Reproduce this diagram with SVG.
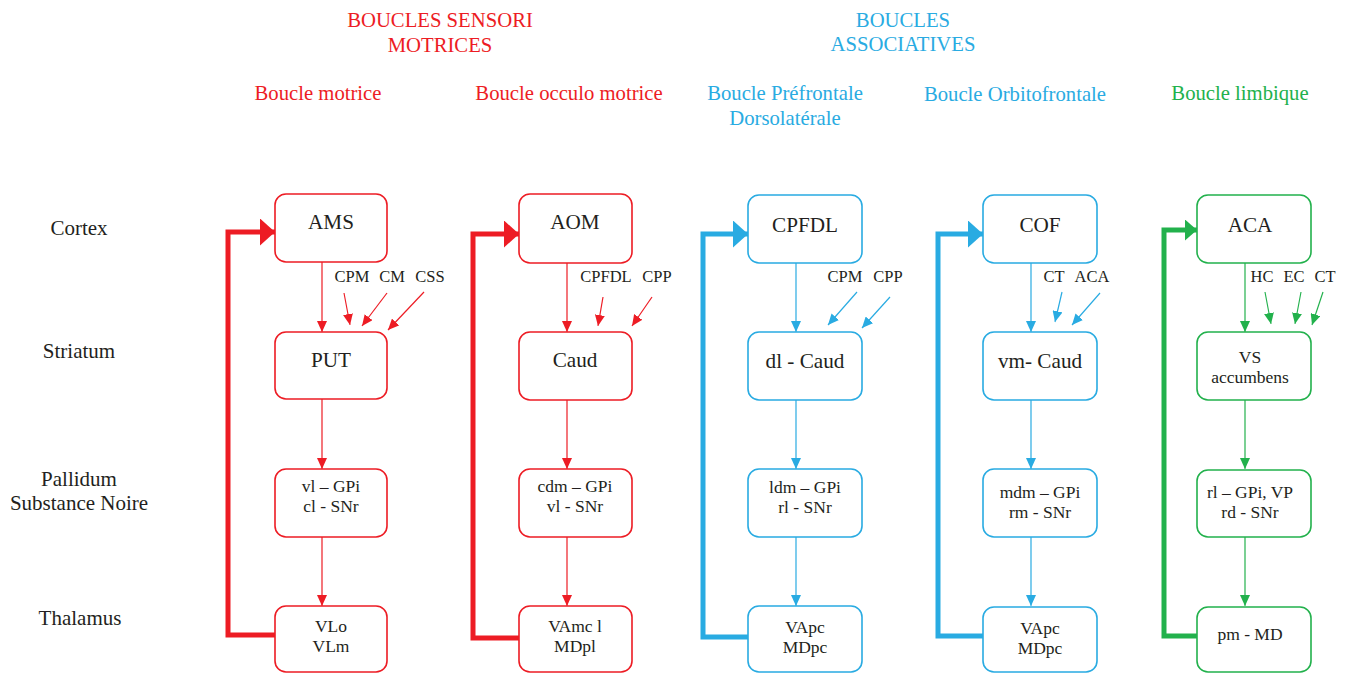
<svg xmlns="http://www.w3.org/2000/svg" width="1347" height="673" viewBox="0 0 1347 673" font-family="Liberation Serif, DejaVu Serif, serif">
<style>
text{font-family:'Liberation Serif','DejaVu Serif',serif;fill:#231F20;text-anchor:middle}
.hd{font-size:20.7px}
.r{fill:#ED1C24}.b{fill:#29ABE2}.g{fill:#22B14C}
.nt{font-size:21.2px}
.nm{font-size:17.5px}
.sm{font-size:16.5px}
.side{font-size:21px}
.box{fill:#fff;stroke-width:1.6}
.br{stroke:#ED1C24}.bb{stroke:#29ABE2}.bg{stroke:#22B14C}
.ln{fill:none;stroke-width:1.2}
.fb{fill:none;stroke-width:5;stroke-linejoin:miter}
</style>
<defs>
<marker id="ar" markerUnits="userSpaceOnUse" markerWidth="10" markerHeight="10" refX="11" refY="5" orient="auto"><path d="M0,0 L11,5 L0,10 z" fill="#ED1C24"/></marker>
<marker id="ab" markerUnits="userSpaceOnUse" markerWidth="10" markerHeight="10" refX="11" refY="5" orient="auto"><path d="M0,0 L11,5 L0,10 z" fill="#29ABE2"/></marker>
<marker id="ag" markerUnits="userSpaceOnUse" markerWidth="10" markerHeight="10" refX="11" refY="5" orient="auto"><path d="M0,0 L11,5 L0,10 z" fill="#22B14C"/></marker>
<marker id="Ar" markerUnits="userSpaceOnUse" markerWidth="15" markerHeight="27" refX="15" refY="13.5" orient="auto"><path d="M0,0 L15,13.5 L0,27 z" fill="#ED1C24"/></marker>
<marker id="Ab" markerUnits="userSpaceOnUse" markerWidth="15" markerHeight="27" refX="15" refY="13.5" orient="auto"><path d="M0,0 L15,13.5 L0,27 z" fill="#29ABE2"/></marker>
<marker id="Ag" markerUnits="userSpaceOnUse" markerWidth="12" markerHeight="21" refX="12" refY="10.5" orient="auto"><path d="M0,0 L12,10.5 L0,21 z" fill="#22B14C"/></marker>
</defs>

<g id="headers">
<text class="hd r" x="440" y="27">BOUCLES SENSORI</text>
<text class="hd r" x="440" y="52">MOTRICES</text>
<text class="hd b" x="903" y="27">BOUCLES</text>
<text class="hd b" x="903" y="51">ASSOCIATIVES</text>
<text class="hd r" x="318" y="100">Boucle motrice</text>
<text class="hd r" x="569" y="100">Boucle occulo motrice</text>
<text class="hd b" x="785" y="100">Boucle Préfrontale</text>
<text class="hd b" x="785" y="125">Dorsolatérale</text>
<text class="hd b" x="1015" y="101">Boucle Orbitofrontale</text>
<text class="hd g" x="1240" y="100">Boucle limbique</text>
</g>

<g id="side-labels">
<text class="side" x="79" y="235">Cortex</text>
<text class="side" x="79" y="358">Striatum</text>
<text class="side" x="79" y="486">Pallidum</text>
<text class="side" x="79" y="510">Substance Noire</text>
<text class="side" x="80" y="625">Thalamus</text>
</g>

<g id="connectors">
<path class="fb" stroke="#ED1C24" d="M275,635 H228 V232 H275" marker-end="url(#Ar)"/>
<path class="fb" stroke="#ED1C24" d="M519,638 H473 V234 H519" marker-end="url(#Ar)"/>
<path class="fb" stroke="#29ABE2" d="M748,637 H703 V234 H748" marker-end="url(#Ab)"/>
<path class="fb" stroke="#29ABE2" d="M983,636 H938 V234 H983" marker-end="url(#Ab)"/>
<path class="fb" stroke="#22B14C" stroke-width="4" d="M1197,636 H1164 V230 H1197" marker-end="url(#Ag)"/>
<line class="ln" stroke="#ED1C24" x1="322" y1="262" x2="322" y2="332" marker-end="url(#ar)"/>
<line class="ln" stroke="#ED1C24" x1="322" y1="399" x2="322" y2="469" marker-end="url(#ar)"/>
<line class="ln" stroke="#ED1C24" x1="322" y1="537" x2="322" y2="606" marker-end="url(#ar)"/>
<line class="ln" stroke="#ED1C24" x1="344" y1="293" x2="350" y2="325" marker-end="url(#ar)"/>
<line class="ln" stroke="#ED1C24" x1="387" y1="293" x2="362" y2="326" marker-end="url(#ar)"/>
<line class="ln" stroke="#ED1C24" x1="424" y1="292" x2="388" y2="330" marker-end="url(#ar)"/>
<line class="ln" stroke="#ED1C24" x1="567" y1="263" x2="567" y2="332" marker-end="url(#ar)"/>
<line class="ln" stroke="#ED1C24" x1="567" y1="400" x2="567" y2="469" marker-end="url(#ar)"/>
<line class="ln" stroke="#ED1C24" x1="567" y1="537" x2="567" y2="606" marker-end="url(#ar)"/>
<line class="ln" stroke="#ED1C24" x1="603" y1="297" x2="598" y2="326" marker-end="url(#ar)"/>
<line class="ln" stroke="#ED1C24" x1="652" y1="297" x2="632" y2="326" marker-end="url(#ar)"/>
<line class="ln" stroke="#29ABE2" x1="796" y1="263" x2="796" y2="332" marker-end="url(#ab)"/>
<line class="ln" stroke="#29ABE2" x1="796" y1="400" x2="796" y2="469" marker-end="url(#ab)"/>
<line class="ln" stroke="#29ABE2" x1="796" y1="537" x2="796" y2="606" marker-end="url(#ab)"/>
<line class="ln" stroke="#29ABE2" x1="857" y1="292" x2="828" y2="325" marker-end="url(#ab)"/>
<line class="ln" stroke="#29ABE2" x1="890" y1="297" x2="862" y2="328" marker-end="url(#ab)"/>
<line class="ln" stroke="#29ABE2" x1="1031" y1="263" x2="1031" y2="332" marker-end="url(#ab)"/>
<line class="ln" stroke="#29ABE2" x1="1031" y1="400" x2="1031" y2="469" marker-end="url(#ab)"/>
<line class="ln" stroke="#29ABE2" x1="1031" y1="537" x2="1031" y2="606" marker-end="url(#ab)"/>
<line class="ln" stroke="#29ABE2" x1="1062" y1="292" x2="1055" y2="322" marker-end="url(#ab)"/>
<line class="ln" stroke="#29ABE2" x1="1100" y1="293" x2="1072" y2="325" marker-end="url(#ab)"/>
<line class="ln" stroke="#22B14C" x1="1245" y1="263" x2="1245" y2="332" marker-end="url(#ag)"/>
<line class="ln" stroke="#22B14C" x1="1245" y1="400" x2="1245" y2="469" marker-end="url(#ag)"/>
<line class="ln" stroke="#22B14C" x1="1245" y1="537" x2="1245" y2="606" marker-end="url(#ag)"/>
<line class="ln" stroke="#22B14C" x1="1265" y1="292" x2="1271" y2="324" marker-end="url(#ag)"/>
<line class="ln" stroke="#22B14C" x1="1301" y1="292" x2="1295" y2="324" marker-end="url(#ag)"/>
<line class="ln" stroke="#22B14C" x1="1323" y1="292" x2="1312" y2="325" marker-end="url(#ag)"/>
</g>

<g id="input-labels">
<text class="sm" x="352" y="282">CPM</text>
<text class="sm" x="392" y="282">CM</text>
<text class="sm" x="430" y="282">CSS</text>
<text class="sm" x="606" y="282">CPFDL</text>
<text class="sm" x="657" y="282">CPP</text>
<text class="sm" x="845" y="282">CPM</text>
<text class="sm" x="888" y="282">CPP</text>
<text class="sm" x="1054" y="282">CT</text>
<text class="sm" x="1092" y="282">ACA</text>
<text class="sm" x="1262" y="282">HC</text>
<text class="sm" x="1294" y="282">EC</text>
<text class="sm" x="1325" y="282">CT</text>
</g>

<g id="AMS"><rect class="box br" x="275" y="194" width="112" height="68" rx="11"/><text class="nt" x="331" y="229">AMS</text></g>
<g id="PUT"><rect class="box br" x="275" y="332" width="112" height="67" rx="11"/><text class="nt" x="331" y="367">PUT</text></g>
<g id="GPi1"><rect class="box br" x="275" y="469" width="112" height="68" rx="11"/><text class="nm" x="331" y="492">vl – GPi</text><text class="nm" x="331" y="512">cl - SNr</text></g>
<g id="VL"><rect class="box br" x="275" y="606" width="112" height="66" rx="11"/><text class="nm" x="331" y="632">VLo</text><text class="nm" x="331" y="652">VLm</text></g>

<g id="AOM"><rect class="box br" x="519" y="194" width="113" height="69" rx="11"/><text class="nt" x="575" y="229">AOM</text></g>
<g id="Caud"><rect class="box br" x="519" y="332" width="113" height="68" rx="11"/><text class="nt" x="575" y="367">Caud</text></g>
<g id="GPi2"><rect class="box br" x="519" y="469" width="113" height="68" rx="11"/><text class="nm" x="575" y="492">cdm – GPi</text><text class="nm" x="575" y="512">vl - SNr</text></g>
<g id="VAmc"><rect class="box br" x="519" y="606" width="113" height="66" rx="11"/><text class="nm" x="575" y="632">VAmc l</text><text class="nm" x="575" y="652">MDpl</text></g>

<g id="CPFDL"><rect class="box bb" x="748" y="195" width="114" height="68" rx="11"/><text class="nt" x="805" y="232">CPFDL</text></g>
<g id="dlCaud"><rect class="box bb" x="748" y="332" width="114" height="68" rx="11"/><text class="nt" x="805" y="368">dl - Caud</text></g>
<g id="GPi3"><rect class="box bb" x="748" y="469" width="114" height="68" rx="11"/><text class="nm" x="805" y="493">ldm – GPi</text><text class="nm" x="805" y="513">rl - SNr</text></g>
<g id="VApc3"><rect class="box bb" x="748" y="606" width="114" height="66" rx="11"/><text class="nm" x="805" y="633">VApc</text><text class="nm" x="805" y="653">MDpc</text></g>

<g id="COF"><rect class="box bb" x="983" y="195" width="114" height="68" rx="11"/><text class="nt" x="1040" y="232">COF</text></g>
<g id="vmCaud"><rect class="box bb" x="983" y="332" width="114" height="68" rx="11"/><text class="nt" x="1040" y="368">vm- Caud</text></g>
<g id="GPi4"><rect class="box bb" x="983" y="469" width="114" height="68" rx="11"/><text class="nm" x="1040" y="498">mdm – GPi</text><text class="nm" x="1040" y="518">rm - SNr</text></g>
<g id="VApc4"><rect class="box bb" x="983" y="607" width="114" height="65" rx="11"/><text class="nm" x="1040" y="634">VApc</text><text class="nm" x="1040" y="654">MDpc</text></g>

<g id="ACA"><rect class="box bg" x="1197" y="195" width="114" height="68" rx="11"/><text class="nt" x="1250" y="232">ACA</text></g>
<g id="VS"><rect class="box bg" x="1197" y="332" width="114" height="68" rx="11"/><text class="nm" x="1250" y="363">VS</text><text class="nm" x="1250" y="383">accumbens</text></g>
<g id="GPi5"><rect class="box bg" x="1197" y="470" width="114" height="67" rx="11"/><text class="nm" x="1250" y="498">rl – GPi, VP</text><text class="nm" x="1250" y="518">rd - SNr</text></g>
<g id="pmMD"><rect class="box bg" x="1197" y="607" width="114" height="65" rx="11"/><text class="nm" x="1250" y="640">pm - MD</text></g>
</svg>
